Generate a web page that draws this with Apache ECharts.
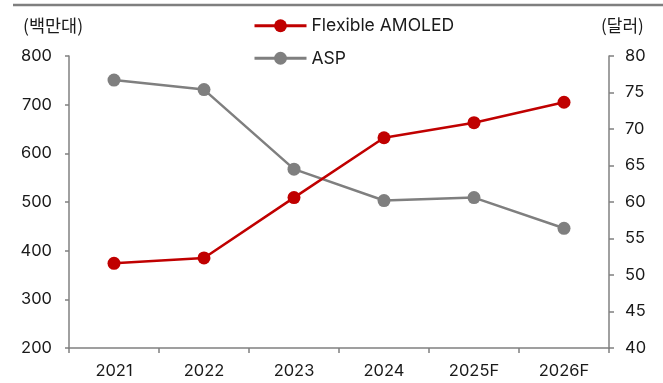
<!DOCTYPE html>
<html>
<head>
<meta charset="utf-8">
<script src="https://cdn.jsdelivr.net/npm/echarts@6/dist/echarts.min.js"></script>
<style>
  html, body { margin: 0; padding: 0; background: #fff; }
  #chart { width: 663px; height: 383px; }
</style>
</head>
<body>
<div id="chart"></div>
<script>
// Flexible AMOLED shipments (million units) and ASP (USD)
const years = ['2021', '2022', '2023', '2024', '2025F', '2026F'];
const flexibleAmoled = [374, 385, 509, 632, 663, 705];
const asp = [76.7, 75.4, 64.5, 60.2, 60.6, 56.4];

const leftTicks = { min: 200, max: 800, interval: 100 };
const rightTicks = { min: 40, max: 80, interval: 5 };

const FONT = 'Inter, "Noto Sans", "Noto Sans CJK KR", sans-serif';
const KFONT = '"Noto Sans CJK KR", sans-serif';
const RED = '#C00000';
const GRAY = '#7F7F7F';
const AXIS = '#808080';
const TEXT = '#1a1a1a';

const chart = echarts.init(document.getElementById('chart'));
chart.setOption({
  animation: false,
  textStyle: { fontFamily: FONT },
  grid: { left: 69, right: 54, top: 56, bottom: 35, containLabel: false },
  legend: {
    orient: 'vertical',
    left: 248,
    top: 12,
    itemWidth: 52,
    itemHeight: 16,
    itemGap: 15,
    lineStyle: { width: 3 },
    textStyle: { fontSize: 17.5, color: TEXT, fontFamily: FONT },
    data: ['Flexible AMOLED', 'ASP']
  },
  graphic: [
    { type: 'line', shape: { x1: 13, y1: 5, x2: 663, y2: 5 }, style: { stroke: GRAY, lineWidth: 2.5 } },
    { type: 'text', left: 23, top: 17, style: { text: '(백만대)', fontSize: 17.5, fill: TEXT, fontFamily: KFONT } },
    { type: 'text', left: 601, top: 17, style: { text: '(달러)', fontSize: 17, fill: TEXT, fontFamily: KFONT } }
  ],
  xAxis: {
    type: 'category',
    data: years,
    boundaryGap: true,
    axisLine: { lineStyle: { color: AXIS, width: 1.5 } },
    axisTick: { show: true, length: 5, lineStyle: { color: AXIS, width: 1.5 } },
    axisLabel: { fontSize: 16.5, color: TEXT, margin: 15, fontFamily: FONT }
  },
  yAxis: [
    {
      type: 'value',
      min: leftTicks.min, max: leftTicks.max, interval: leftTicks.interval,
      axisLine: { show: true, lineStyle: { color: AXIS, width: 1.5 } },
      axisTick: { show: true, length: 4, lineStyle: { color: AXIS, width: 1.5 } },
      splitLine: { show: false },
      axisLabel: { fontSize: 16.5, color: TEXT, margin: 17, fontFamily: FONT }
    },
    {
      type: 'value',
      position: 'right',
      min: rightTicks.min, max: rightTicks.max, interval: rightTicks.interval,
      axisLine: { show: true, lineStyle: { color: AXIS, width: 1.5 } },
      axisTick: { show: true, length: 5, lineStyle: { color: AXIS, width: 1.5 } },
      splitLine: { show: false },
      axisLabel: { fontSize: 16.5, color: TEXT, margin: 16, fontFamily: FONT }
    }
  ],
  series: [
    {
      name: 'Flexible AMOLED',
      type: 'line',
      yAxisIndex: 0,
      data: flexibleAmoled,
      symbol: 'circle',
      symbolSize: 13,
      lineStyle: { color: RED, width: 2.5 },
      itemStyle: { color: RED },
      z: 3
    },
    {
      name: 'ASP',
      type: 'line',
      yAxisIndex: 1,
      data: asp,
      symbol: 'circle',
      symbolSize: 13,
      lineStyle: { color: GRAY, width: 2.5 },
      itemStyle: { color: GRAY },
      z: 2
    }
  ]
});
</script>
</body>
</html>
